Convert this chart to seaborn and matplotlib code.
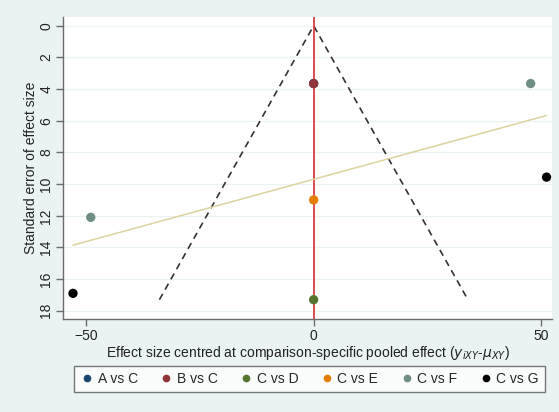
import numpy as np
import pandas as pd
import matplotlib
matplotlib.use('Agg')
import matplotlib.pyplot as plt
import seaborn as sns

# comparison-adjusted funnel plot data
comparisons = ['A vs C', 'B vs C', 'C vs D', 'C vs E', 'C vs F', 'C vs F', 'C vs G', 'C vs G']
effect_centred = [0.0, 0.0, 0.0, 0.0, 47.7, -49.0, 51.2, -52.9]
std_error = [3.65, 3.65, 17.3, 11.0, 3.65, 12.1, 9.56, 16.9]

order = ['A vs C', 'B vs C', 'C vs D', 'C vs E', 'C vs F', 'C vs G']
colors = ['#1a476f', '#90353b', '#55752f', '#e37e00', '#6e8e84', '#000000']

df = pd.DataFrame({'comparison': comparisons, 'x': effect_centred, 'se': std_error})

sns.set_style('white')
plt.rcParams['font.family'] = ['Liberation Sans', 'DejaVu Sans']

bg = '#eaf2f3'
fig = plt.figure(figsize=(5.59, 4.12), dpi=100, facecolor=bg)
ax = fig.add_axes([0.1127, 0.2257, 0.8748, 0.733])
ax.set_facecolor('white')

for y in range(0, 19, 2):
    ax.axhline(y, color=bg, lw=0.9, zorder=0)

# funnel (95% limits)
max_se = max(std_error)
ax.plot([-1.96 * max_se, 0, 1.96 * max_se], [max_se, 0, max_se],
        color='#333333', lw=1.2, dashes=(4, 3), zorder=2)

ax.axvline(0, color='#dc3c42', lw=1.3, zorder=2)

sns.regplot(data=df, x='x', y='se', scatter=False, ci=None, truncate=True,
            line_kws={'color': '#dcd39f', 'lw': 1.1, 'zorder': 2}, ax=ax)

sns.scatterplot(data=df, x='x', y='se', hue='comparison', hue_order=order,
                palette=colors, s=45, edgecolor='none', legend=False, zorder=3, ax=ax)

ax.set_xlim(-55.1, 52.4)
ax.set_ylim(18.52, -0.55)
ax.set_xticks([-50, 0, 50])
ax.set_yticks(range(0, 19, 2))
ax.tick_params(axis='both', direction='out', length=5, width=1, color='#6b6b6b',
               labelsize=10, labelcolor='#222222', bottom=True, left=True, pad=2)
ax.tick_params(axis='y', labelrotation=90)
for lab in ax.get_yticklabels():
    lab.set_va('center')

for s in ['top', 'right']:
    ax.spines[s].set_visible(False)
for s in ['left', 'bottom']:
    ax.spines[s].set_color('#6b6b6b')
    ax.spines[s].set_linewidth(1.0)

ax.set_xlabel(r'Effect size centred at comparison-specific pooled effect ($y_{iXY}$-$\mu_{XY}$)',
              fontsize=10, color='#222222', labelpad=1)
ax.set_ylabel('Standard error of effect size', fontsize=10, color='#222222', labelpad=1)

handles = [plt.Line2D([], [], marker='o', ls='none', color=c, markersize=4.5) for c in colors]
leg = fig.legend(handles, order, loc='center', bbox_to_anchor=(0.553, 0.08), ncol=6,
                 frameon=True, fancybox=False, edgecolor='#555555', fontsize=10,
                 handletextpad=0.2, columnspacing=1.5, borderpad=0.45, handlelength=1.1)
leg.get_frame().set_linewidth(1.0)

fig.savefig('out.png', dpi=100, facecolor=bg)
